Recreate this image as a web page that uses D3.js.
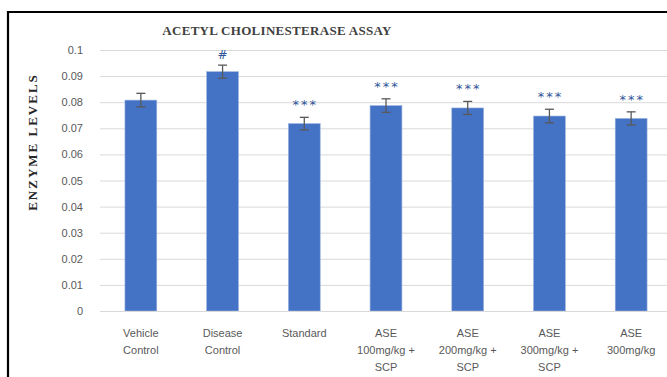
<!DOCTYPE html>
<html><head><meta charset="utf-8">
<script src="https://cdn.jsdelivr.net/npm/d3@7"></script>
<style>html,body{margin:0;padding:0;background:#fff;}</style>
</head><body>
<svg id="chart" width="667" height="377"></svg>
<script>
const categories = [
  ["Vehicle","Control"],
  ["Disease","Control"],
  ["Standard"],
  ["ASE","100mg/kg +","SCP"],
  ["ASE","200mg/kg +","SCP"],
  ["ASE","300mg/kg +","SCP"],
  ["ASE","300mg/kg"]
];
const values = [0.0808, 0.0917, 0.0718, 0.0787, 0.0778, 0.0747, 0.0738];
const errors = [0.0026, 0.0025, 0.0024, 0.0026, 0.0025, 0.0026, 0.0025];
const marks  = ["", "#", "***", "***", "***", "***", "***"];
const yTicks = [0,0.01,0.02,0.03,0.04,0.05,0.06,0.07,0.08,0.09,0.1];
const title = "ACETYL CHOLINESTERASE ASSAY";
const yTitle = "ENZYME LEVELS";

const svg = d3.select("#chart");
const idx = d3.range(categories.length);
const x = d3.scaleBand().domain(idx).range([100, 672]).paddingInner(0.61).paddingOuter(0.305);
const y = d3.scaleLinear().domain([0, 0.1]).range([311, 50]);

// frame
svg.append("path").attr("d","M8,378 L8,12 L668,12").attr("fill","none").attr("stroke","#000").attr("stroke-width",2.2);

// title
svg.append("text").attr("x",277).attr("y",35).attr("text-anchor","middle")
  .attr("font-family","Liberation Serif, serif").attr("font-weight","bold").attr("font-size",13)
  .attr("letter-spacing",0.3).attr("fill","#404040").text(title);

// y title
svg.append("text").attr("transform","translate(37,142) rotate(-90)").attr("text-anchor","middle")
  .attr("font-family","Liberation Serif, serif").attr("font-weight","bold").attr("font-size",13)
  .attr("letter-spacing",2).attr("fill","#262626").text(yTitle);

// grid
const yAxis = d3.axisLeft(y).tickValues(yTicks).tickFormat(d => d3.format("~g")(d)).tickSize(-572).tickPadding(17);
const gy = svg.append("g").attr("transform","translate(100,0)").call(yAxis);
gy.select(".domain").remove();
gy.selectAll(".tick line").attr("stroke","#d9d9d9").attr("stroke-width",1);
gy.selectAll(".tick text").attr("font-family","Liberation Sans, Arial, sans-serif").attr("font-size",11).attr("fill","#595959");

// bars
svg.append("g").selectAll("rect").data(idx).join("rect")
  .attr("x", i => x(i)).attr("width", x.bandwidth())
  .attr("y", i => y(values[i])).attr("height", i => y(0) - y(values[i]))
  .attr("fill","#4472C4").attr("stroke","#9db5e0").attr("stroke-width",0.6);

// x axis line
svg.append("line").attr("x1",100).attr("x2",672).attr("y1",y(0)+0.5).attr("y2",y(0)+0.5).attr("stroke","#d9d9d9");

// error bars
const eg = svg.append("g").attr("stroke","#595959").attr("stroke-width",1.3);
idx.forEach(i => {
  const cx = x(i) + x.bandwidth()/2;
  const t = y(values[i] + errors[i]), b = y(values[i] - errors[i]);
  eg.append("line").attr("x1",cx).attr("x2",cx).attr("y1",t).attr("y2",b);
  eg.append("line").attr("x1",cx-4.5).attr("x2",cx+4.5).attr("y1",t).attr("y2",t);
  eg.append("line").attr("x1",cx-4.5).attr("x2",cx+4.5).attr("y1",b).attr("y2",b);
});

// significance marks
svg.append("g").selectAll("text").data(idx).join("text")
  .attr("x", i => x(i) + x.bandwidth()/2 + (marks[i] === "#" ? 0 : 1))
  .attr("y", i => marks[i] === "#" ? y(values[i] + errors[i]) - 6 : y(values[i] + errors[i]) - 8)
  .attr("text-anchor","middle")
  .attr("font-family","DejaVu Sans, sans-serif").attr("font-size", i => marks[i] === "#" ? 12 : 13)
  .attr("letter-spacing", i => marks[i] === "#" ? 0 : 2)
  .attr("fill","#2F5597").text(i => marks[i]);

// category labels
const cg = svg.append("g").attr("font-family","Liberation Sans, Arial, sans-serif").attr("font-size",11).attr("fill","#595959");
idx.forEach(i => {
  const cx = x(i) + x.bandwidth()/2;
  const t = cg.append("text").attr("text-anchor","middle").attr("x",cx).attr("y",337);
  categories[i].forEach((ln, k) => t.append("tspan").attr("x",cx).attr("dy", k ? 17 : 0).text(ln));
});
</script>
</body></html>
